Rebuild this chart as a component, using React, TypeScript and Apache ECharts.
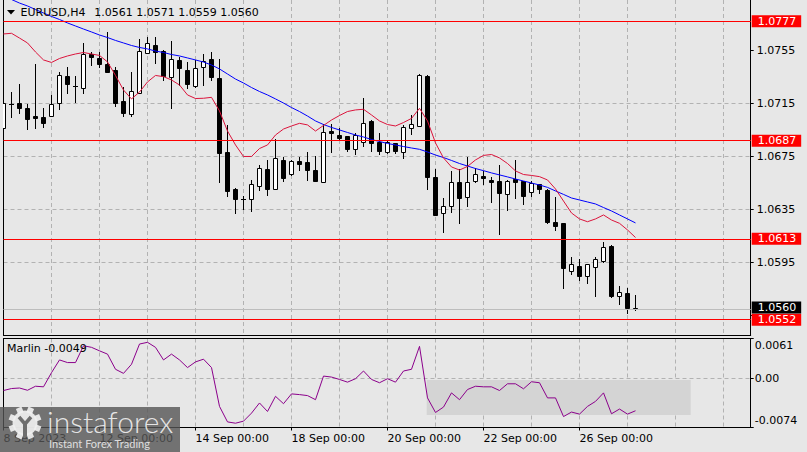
import React, { useEffect, useRef } from "react";
import * as echarts from "echarts";

// ---- data (EURUSD H4, 80 bars) ----
const opens = [
  1.06966, 1.07145, 1.07152, 1.07114, 1.07056, 1.07047, 1.07059, 1.07152, 1.07358, 1.07279,
  1.0727, 1.07522, 1.07491, 1.07446, 1.07403, 1.07169, 1.07071, 1.07232, 1.07535, 1.07594,
  1.07546, 1.07353, 1.07479, 1.07403, 1.07283, 1.07428, 1.07484, 1.07341, 1.06783, 1.06506,
  1.06431, 1.06428, 1.06531, 1.06654, 1.06504, 1.06725, 1.06617, 1.06717, 1.06707, 1.06649,
  1.06561, 1.06943, 1.06913, 1.06906, 1.06805, 1.06863, 1.07019, 1.06863, 1.06783, 1.06851,
  1.06783, 1.06964, 1.06983, 1.07358, 1.06594, 1.06323, 1.0638, 1.06557, 1.06443, 1.06569,
  1.06604, 1.06574, 1.06566, 1.06466, 1.06579, 1.06569, 1.06481, 1.06541, 1.06498, 1.06259,
  1.06252, 1.0589, 1.05925, 1.0585, 1.0592, 1.05965, 1.06076, 1.05699, 1.05719, 1.0561,
];
const highs = [
  1.07169, 1.0724, 1.07298, 1.07147, 1.07448, 1.07114, 1.07212, 1.07386, 1.07426, 1.07356,
  1.07607, 1.07539, 1.07537, 1.07692, 1.07426, 1.07277, 1.0739, 1.07637, 1.07654, 1.07654,
  1.07556, 1.07622, 1.07504, 1.07464, 1.07481, 1.07524, 1.07541, 1.07486, 1.06989, 1.06511,
  1.06453, 1.06574, 1.06687, 1.06725, 1.06881, 1.06749, 1.06725, 1.06749, 1.06783, 1.06755,
  1.06994, 1.06994, 1.06964, 1.06906, 1.06931, 1.0719, 1.07026, 1.06931, 1.0687, 1.06855,
  1.06992, 1.07064, 1.07371, 1.07366, 1.06655, 1.0644, 1.06644, 1.06655, 1.06745, 1.06662,
  1.06642, 1.06599, 1.06687, 1.06574, 1.06725, 1.06569, 1.06569, 1.06544, 1.06504, 1.06448,
  1.06252, 1.05996, 1.05976, 1.05941, 1.05996, 1.06109, 1.06084, 1.05775, 1.05757, 1.0571,
];
const lows = [
  1.06951, 1.07051, 1.07081, 1.06956, 1.06964, 1.06971, 1.07056, 1.07111, 1.0723, 1.07164,
  1.07232, 1.07441, 1.07428, 1.07388, 1.07132, 1.07056, 1.07056, 1.0723, 1.07528, 1.07454,
  1.07324, 1.0712, 1.07292, 1.07271, 1.07275, 1.0729, 1.07328, 1.06561, 1.06453, 1.06323,
  1.06353, 1.06342, 1.06498, 1.06461, 1.06502, 1.06566, 1.06612, 1.06649, 1.06574, 1.06566,
  1.06557, 1.06783, 1.06875, 1.06792, 1.06768, 1.0683, 1.06795, 1.06768, 1.06775, 1.0678,
  1.06743, 1.06921, 1.06983, 1.06502, 1.0631, 1.06184, 1.06335, 1.06252, 1.0638, 1.06561,
  1.06544, 1.0641, 1.06164, 1.06348, 1.06436, 1.06393, 1.06453, 1.06474, 1.06252, 1.06197,
  1.05762, 1.05863, 1.0582, 1.05795, 1.05702, 1.05956, 1.05689, 1.05637, 1.05573, 1.0559,
];
const closes = [
  1.07154, 1.07145, 1.07119, 1.07031, 1.07044, 1.07001, 1.07145, 1.07363, 1.07295, 1.07279,
  1.07522, 1.07503, 1.07448, 1.0739, 1.07152, 1.07081, 1.07245, 1.07546, 1.07607, 1.07539,
  1.0736, 1.07484, 1.07416, 1.07295, 1.07416, 1.07473, 1.07354, 1.06775, 1.06493, 1.06431,
  1.06431, 1.06541, 1.06662, 1.06506, 1.06737, 1.06587, 1.06719, 1.06692, 1.06649, 1.06569,
  1.06933, 1.06926, 1.06893, 1.06808, 1.06913, 1.07001, 1.06851, 1.06795, 1.06863, 1.06795,
  1.0697, 1.06994, 1.07366, 1.06599, 1.0631, 1.06378, 1.06561, 1.06436, 1.06561, 1.06617,
  1.06587, 1.06557, 1.06474, 1.06566, 1.06561, 1.06455, 1.06553, 1.06504, 1.06259, 1.06229,
  1.05908, 1.05941, 1.05852, 1.05941, 1.05976, 1.06066, 1.05699, 1.05732, 1.05606, 1.056,
];
const maSlow = [
  1.07961, 1.07935, 1.07908, 1.07886, 1.07859, 1.07833, 1.07807, 1.07784, 1.07758, 1.07735,
  1.07712, 1.0769, 1.07667, 1.07648, 1.07626, 1.07607, 1.07588, 1.07573, 1.07562, 1.07546,
  1.07535, 1.0752, 1.07509, 1.07494, 1.07479, 1.07463, 1.07441, 1.07411, 1.07373, 1.07335,
  1.07305, 1.07271, 1.07241, 1.07215, 1.07185, 1.07154, 1.0712, 1.0709, 1.07056, 1.07019,
  1.06992, 1.0697, 1.06951, 1.06932, 1.06913, 1.06898, 1.06879, 1.06864, 1.06849, 1.06838,
  1.06826, 1.06815, 1.06805, 1.06785, 1.06762, 1.06743, 1.06721, 1.06698, 1.06679, 1.0666,
  1.06644, 1.06627, 1.06612, 1.06597, 1.06581, 1.06566, 1.06551, 1.06536, 1.06518, 1.06491,
  1.06465, 1.06438, 1.06423, 1.06408, 1.06393, 1.06366, 1.0634, 1.0631, 1.0628, 1.0625,
];
const maFast = [
  1.07675, 1.0768, 1.07644, 1.07607, 1.07539, 1.07479, 1.0746, 1.0749, 1.07509, 1.07524,
  1.07535, 1.07524, 1.07513, 1.07464, 1.07362, 1.07252, 1.07185, 1.07237, 1.07313, 1.07362,
  1.07353, 1.07328, 1.0729, 1.07215, 1.07188, 1.0719, 1.07197, 1.07094, 1.06943, 1.06838,
  1.06751, 1.06751, 1.06811, 1.06838, 1.06913, 1.06958, 1.06981, 1.07001, 1.06989, 1.06943,
  1.06985, 1.07026, 1.0706, 1.0709, 1.07102, 1.07107, 1.07064, 1.07019, 1.06992, 1.06981,
  1.07007, 1.07038, 1.07114, 1.07019, 1.06853, 1.0674, 1.06672, 1.06649, 1.06676, 1.06725,
  1.06759, 1.06766, 1.0674, 1.06698, 1.06642, 1.06615, 1.06608, 1.06599, 1.06574, 1.06506,
  1.06415, 1.06325, 1.0628, 1.06259, 1.0628, 1.0631, 1.06272, 1.06247, 1.06197, 1.0614,
];
const marlin = [
  -0.00179, -0.00149, -0.00141, -0.00175, -0.00114, -0.00123, 0.00092, 0.00285, 0.00245, 0.00245,
  0.005, 0.00476, 0.00423, 0.00373, 0.00143, 0.00081, 0.00219, 0.00526, 0.00552, 0.00476,
  0.00285, 0.00373, 0.00285, 0.00169, 0.00255, 0.00296, 0.00169, -0.0042, -0.00655, -0.00675,
  -0.00644, -0.00522, -0.00368, -0.00497, -0.00267, -0.00379, -0.0023, -0.00241, -0.00256, -0.00318,
  0.0004, 0.00025, -0.00011, -0.00052, 0.0, 0.00117, -0.00011, -0.00061, 0.0, -0.00052,
  0.00117, 0.00143, 0.00491, -0.00291, -0.00512, -0.0043, -0.00215, -0.00318, -0.00164, -0.00114,
  -0.00123, -0.00123, -0.00179, -0.00077, -0.00077, -0.00153, -0.00046, -0.00061, -0.00291, -0.00291,
  -0.00574, -0.00506, -0.00537, -0.0042, -0.00344, -0.00215, -0.00532, -0.0046, -0.00537, -0.00486,
];
const timeTickBars = [0, 12, 24, 36, 48, 60, 72];
const timeTickLabels = [
  "8 Sep 2023", "12 Sep 00:00", "14 Sep 00:00", "18 Sep 00:00",
  "20 Sep 00:00", "22 Sep 00:00", "26 Sep 00:00",
];
const priceTicks = [1.0555, 1.0595, 1.0635, 1.0675, 1.0715, 1.0755];
const priceLabelTicks = [1.0595, 1.0635, 1.0675, 1.0715, 1.0755];
const levels = [1.0777, 1.0687, 1.0613, 1.0552];
const bidPrice = 1.056;
const marlinTicks = [-0.0074, 0, 0.0061];
const marlinBoxX = [52.9, 85.9];
const marlinBoxY = [-0.0002, -0.0055];
const headerSymbol = "EURUSD,H4";
const headerOHLC = [1.0561, 1.0571, 1.0559, 1.056];
const marlinName = "Marlin";
const marlinLast = -0.0049;

const P_MIN = 1.05401;
const P_MAX = 1.07931;
const X_MAX = 93.4;
const BG = "#e7e7e7";
const GRIDC = "#b2b2b2";
const FONT = "DejaVu Sans";

export default function App() {
  const ref = useRef<HTMLDivElement>(null);
  useEffect(() => {
    const chart = echarts.init(ref.current!, null, { renderer: "svg" });
    const candleData = closes.map((c, i) => [i, opens[i], highs[i], lows[i], c]);
    const slow = maSlow.map((v, i) => [i, v]);
    const fast = maFast.map((v, i) => [i, v]);
    const marl = marlin.map((v, i) => [i, v]);

    const dash = { color: GRIDC, type: [4, 3] as any, width: 1 };
    const blackLine = { show: true, onZero: false, lineStyle: { color: "#000", width: 1 } };

    const levelLabel = (bg: string, dy: number) => ({
      show: true,
      position: "end",
      distance: 1,
      offset: [0, dy],
      formatter: (p: any) => Number(p.value).toFixed(4),
      color: "#fff",
      backgroundColor: bg,
      padding: [1, 5, 0, 6],
      fontSize: 11,
      lineHeight: 11,
      fontFamily: FONT,
    });

    const GX = 25, GY = 423;
    const gearFill = "rgba(240,240,240,0.92)";
    const gearTeeth = Array.from({ length: 8 }, (_, i) => ({
      type: "rect",
      x: GX,
      y: GY,
      rotation: (i * Math.PI) / 4 + Math.PI / 8,
      shape: { x: -3, y: -16.5, width: 6, height: 6 },
      style: { fill: gearFill },
      z: 101,
    }));

    const option: any = {
      animation: false,
      backgroundColor: BG,
      textStyle: { fontFamily: FONT, fontSize: 11 },
      grid: [
        { left: 3.5, right: 56.3, top: 0, height: 335.5, containLabel: false, outerBoundsMode: "none" },
        { left: 3.5, right: 56.3, top: 338.5, height: 89, containLabel: false, outerBoundsMode: "none" },
      ],
      xAxis: [
        {
          type: "value", gridIndex: 0, min: 0, max: X_MAX, interval: 6,
          axisLine: blackLine, axisTick: { show: false }, axisLabel: { show: false },
          splitLine: { show: true, showMinLine: false, showMaxLine: false, lineStyle: dash },
        },
        {
          type: "value", gridIndex: 1, min: 0, max: X_MAX, interval: 6, position: "bottom",
          axisLine: blackLine, axisTick: { show: false }, axisLabel: { show: false },
          splitLine: { show: true, showMinLine: false, showMaxLine: false, lineStyle: dash },
        },
        {
          type: "value", gridIndex: 1, min: 0, max: X_MAX, position: "bottom",
          axisLine: { show: false, onZero: false },
          axisTick: { show: true, customValues: timeTickBars, length: 3, lineStyle: { color: "#000" } },
          axisLabel: {
            show: true, customValues: timeTickBars, align: "left", margin: 5,
            color: "#000", fontSize: 11, fontFamily: FONT,
            formatter: (v: number) => {
              const i = timeTickBars.indexOf(Math.round(v));
              return i >= 0 ? timeTickLabels[i] : "";
            },
          },
          splitLine: { show: false },
        },
        {
          type: "value", gridIndex: 1, min: 0, max: X_MAX, position: "top",
          axisLine: blackLine, axisTick: { show: false }, axisLabel: { show: false }, splitLine: { show: false },
        },
      ],
      yAxis: [
        {
          type: "value", gridIndex: 0, position: "right", min: P_MIN, max: P_MAX,
          axisLine: blackLine,
          axisTick: { show: true, customValues: priceTicks, length: 3, lineStyle: { color: "#000" } },
          axisLabel: {
            show: true, customValues: priceLabelTicks, margin: 6, color: "#000",
            fontSize: 11, fontFamily: FONT, formatter: (v: number) => v.toFixed(4),
          },
          splitLine: { show: true, showMinLine: false, showMaxLine: false, lineStyle: dash },
        },
        {
          type: "value", gridIndex: 0, position: "left", min: 0, max: 1,
          axisLine: blackLine, axisTick: { show: false }, axisLabel: { show: false }, splitLine: { show: false },
        },
        {
          type: "value", gridIndex: 1, position: "right", min: marlinTicks[0], max: marlinTicks[2],
          axisLine: blackLine,
          axisTick: { show: true, customValues: marlinTicks, length: 3, lineStyle: { color: "#000" } },
          axisLabel: {
            show: true, customValues: marlinTicks, margin: 4, color: "#000", fontSize: 11, fontFamily: FONT,
            formatter: (v: number) => {
              if (Math.abs(v - marlinTicks[2]) < 1e-9) return `{top|${v.toFixed(4)}}`;
              if (Math.abs(v - marlinTicks[0]) < 1e-9) return `{bot|${v.toFixed(4)}}`;
              return "0.00";
            },
            rich: {
              top: { padding: [14, 0, 0, 0], fontSize: 11, fontFamily: FONT, color: "#000" },
              bot: { padding: [0, 0, 15, 0], fontSize: 11, fontFamily: FONT, color: "#000" },
            },
          },
          splitLine: { show: true, showMinLine: false, showMaxLine: false, lineStyle: dash },
        },
        {
          type: "value", gridIndex: 1, position: "left", min: 0, max: 1,
          axisLine: blackLine, axisTick: { show: false }, axisLabel: { show: false }, splitLine: { show: false },
        },
      ],
      series: [
        {
          type: "custom",
          xAxisIndex: 0,
          yAxisIndex: 0,
          clip: true,
          silent: true,
          z: 2,
          encode: { x: 0, y: [1, 2, 3, 4] },
          data: candleData,
          renderItem: (params: any, api: any) => {
            const x = api.value(0);
            const o = api.value(1), h = api.value(2), l = api.value(3), c = api.value(4);
            const pO = api.coord([x, o]);
            const pC = api.coord([x, c]);
            const pH = api.coord([x, h]);
            const pL = api.coord([x, l]);
            const cx = Math.floor(pO[0]) + 0.5;
            const top = Math.round(Math.min(pO[1], pC[1])) + 0.5;
            const bot = Math.round(Math.max(pO[1], pC[1])) + 0.5;
            const children: any[] = [
              {
                type: "line",
                shape: { x1: cx, y1: Math.round(pH[1]), x2: cx, y2: Math.round(pL[1]) + 1 },
                style: { stroke: "#000", lineWidth: 1 },
              },
            ];
            if (bot - top < 1) {
              children.push({
                type: "line",
                shape: { x1: cx - 2.5, y1: top, x2: cx + 2.5, y2: top },
                style: { stroke: "#000", lineWidth: 1 },
              });
            } else {
              children.push({
                type: "rect",
                shape: { x: cx - 2, y: top, width: 4, height: bot - top },
                style: { fill: c > o ? "#ffffff" : "#000000", stroke: "#000", lineWidth: 1 },
              });
            }
            return { type: "group", children };
          },
        },
        {
          type: "line",
          xAxisIndex: 0,
          yAxisIndex: 0,
          data: slow,
          showSymbol: false,
          silent: true,
          z: 3,
          lineStyle: { color: "#0000ff", width: 1 },
          markLine: {
            silent: true,
            symbol: ["none", "none"],
            precision: 4,
            data: [
              ...levels.map((v) => ({
                yAxis: v,
                lineStyle: { color: "#ff0000", width: 1, type: "solid" },
                label: levelLabel("#ff0000", 0),
              })),
              {
                yAxis: bidPrice,
                lineStyle: { color: "#bdbdbd", width: 1, type: "solid" },
                label: levelLabel("#000000", -1.5),
              },
            ],
          },
        },
        {
          type: "line",
          xAxisIndex: 0,
          yAxisIndex: 0,
          data: fast,
          showSymbol: false,
          silent: true,
          z: 3,
          lineStyle: { color: "#dc143c", width: 1 },
        },
        {
          type: "line",
          xAxisIndex: 1,
          yAxisIndex: 2,
          data: marl,
          showSymbol: false,
          silent: true,
          z: 3,
          lineStyle: { color: "#8b008b", width: 1 },
          markArea: {
            silent: true,
            itemStyle: { color: "#d4d4d4" },
            data: [[{ coord: [marlinBoxX[0], marlinBoxY[0]] }, { coord: [marlinBoxX[1], marlinBoxY[1]] }]],
          },
        },
      ],
      graphic: [
        {
          type: "polygon",
          shape: { points: [[7, 10], [15, 10], [11, 14.5]] },
          style: { fill: "#000" },
          z: 50,
        },
        {
          type: "text",
          x: 20.5,
          y: 12.7,
          style: { text: headerSymbol, font: `11px "${FONT}"`, fill: "#000", verticalAlign: "middle", align: "left" },
          z: 50,
        },
        {
          type: "text",
          x: 94.3,
          y: 12.7,
          style: {
            text: headerOHLC.map((v) => v.toFixed(4)).join(" "),
            font: `11px "${FONT}"`, fill: "#000", verticalAlign: "middle", align: "left",
          },
          z: 50,
        },
        {
          type: "text",
          x: 7,
          y: 348,
          style: {
            text: `${marlinName} ${marlinLast.toFixed(4)}`,
            font: `11px "${FONT}"`, fill: "#000", verticalAlign: "middle", align: "left",
          },
          z: 50,
        },
        {
          type: "rect",
          shape: { x: 0, y: 407, width: 180, height: 45 },
          style: { fill: "rgba(85,85,85,0.8)" },
          z: 100,
        },
        ...gearTeeth,
        {
          type: "circle",
          shape: { cx: GX, cy: GY, r: 12.5 },
          style: { fill: gearFill },
          z: 101,
        },
        {
          type: "polyline",
          shape: { points: [[GX - 6, GY - 6], [GX, GY + 1], [GX + 6, GY - 6]] },
          style: { stroke: "rgba(110,110,110,1)", lineWidth: 3.5, fill: null },
          z: 102,
        },
        {
          type: "rect",
          shape: { x: GX - 2, y: GY, width: 4, height: 14 },
          style: { fill: "rgba(110,110,110,1)" },
          z: 102,
        },
        {
          type: "text",
          x: 47,
          y: 420.5,
          style: {
            text: "instaforex", font: '300 30px "Lato"', fill: "rgba(240,240,240,0.92)",
            verticalAlign: "middle", align: "left",
          },
          z: 101,
        },
        {
          type: "text",
          x: 49,
          y: 443.5,
          style: {
            text: "Instant Forex Trading", font: '11px "Lato"', fill: "rgba(235,235,235,0.9)",
            verticalAlign: "middle", align: "left",
          },
          z: 101,
        },
      ],
    };
    chart.setOption(option);
    return () => chart.dispose();
  }, []);
  return (
    <div
      ref={ref}
      style={{ position: "fixed", left: 0, top: 0, width: 807, height: 452, background: BG }}
    />
  );
}
